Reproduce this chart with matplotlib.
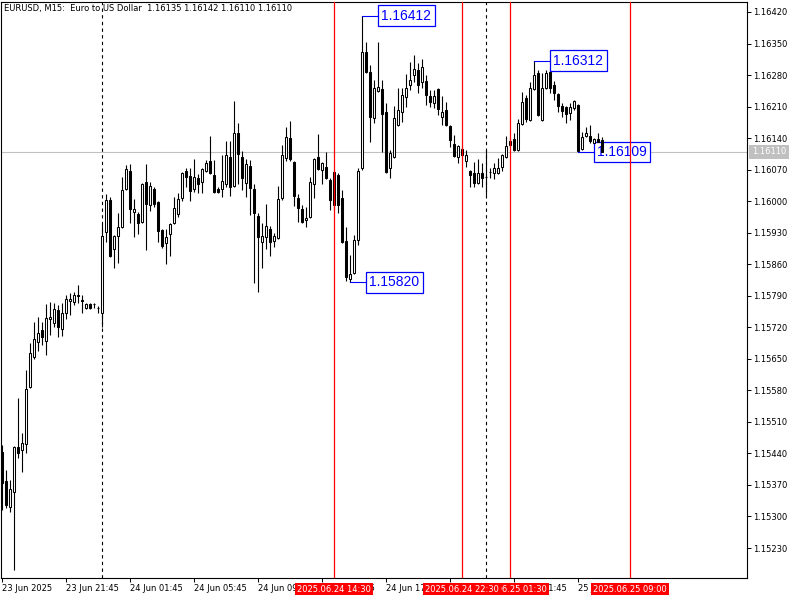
import numpy as np
import pandas as pd
import matplotlib
matplotlib.use("Agg")
import matplotlib.pyplot as plt

# EURUSD M15 candles, first bar 23 Jun 17:45
start = pd.Timestamp("2025-06-23 17:45")

opens = [1.15443, 1.15379, 1.15321, 1.15354, 1.15454, 1.15448, 1.15461, 1.15588, 1.15654, 1.15687,
         1.15714, 1.15690, 1.15738, 1.15730, 1.15758, 1.15716, 1.15752, 1.15778, 1.15776, 1.15792,
         1.15781, 1.15763, 1.15772, 1.15772, 1.15763, 1.15752, 1.15932, 1.16003, 1.15894, 1.15923,
         1.15943, 1.16027, 1.16067, 1.15976, 1.15972, 1.15954, 1.16043, 1.15992, 1.16027, 1.15998,
         1.15936, 1.15907, 1.15927, 1.15952, 1.15972, 1.16007, 1.16067, 1.16056, 1.16027, 1.16052,
         1.16043, 1.16067, 1.16089, 1.16058, 1.16027, 1.16027, 1.16038, 1.16098, 1.16034, 1.16151,
         1.16098, 1.16040, 1.16078, 1.16027, 1.15967, 1.15909, 1.15920, 1.15938, 1.15912, 1.15918,
         1.16007, 1.16096, 1.16140, 1.16087, 1.16007, 1.15983, 1.15958, 1.15965, 1.16038, 1.16098,
         1.16069, 1.16076, 1.16047, 1.15992, 1.16058, 1.16007, 1.15912, 1.15827, 1.15841, 1.15914,
         1.16074, 1.16331, 1.16287, 1.16185, 1.16245, 1.16249, 1.16198, 1.16074, 1.16098, 1.16169,
         1.16198, 1.16231, 1.16258, 1.16280, 1.16291, 1.16265, 1.16267, 1.16233, 1.16218, 1.16249,
         1.16187, 1.16202, 1.16167, 1.16127, 1.16098, 1.16116, 1.16089, 1.16067, 1.16063, 1.16040,
         1.16063, 1.16054, 1.16065, 1.16063, 1.16063, 1.16076, 1.16098, 1.16125, 1.16138, 1.16114,
         1.16171, 1.16229, 1.16180, 1.16249, 1.16285, 1.16180, 1.16251, 1.16287, 1.16258, 1.16238,
         1.16211, 1.16209, 1.16196, 1.16207, 1.16214, 1.16116, 1.16145, 1.16145, 1.16129, 1.16138,
         1.16135]
highs = [1.15459, 1.15403, 1.15381, 1.15456, 1.15563, 1.15485, 1.15625, 1.15685, 1.15732, 1.15743,
         1.15732, 1.15772, 1.15776, 1.15774, 1.15770, 1.15774, 1.15792, 1.15796, 1.15798, 1.15814,
         1.15792, 1.15774, 1.15774, 1.15774, 1.15767, 1.15949, 1.16016, 1.16009, 1.15925, 1.15974,
         1.16054, 1.16080, 1.16083, 1.16005, 1.15976, 1.16040, 1.16083, 1.16043, 1.16032, 1.16000,
         1.15938, 1.15938, 1.15952, 1.16009, 1.16018, 1.16065, 1.16074, 1.16074, 1.16094, 1.16060,
         1.16074, 1.16091, 1.16145, 1.16091, 1.16032, 1.16102, 1.16134, 1.16134, 1.16222, 1.16174,
         1.16111, 1.16094, 1.16091, 1.16038, 1.15974, 1.15952, 1.15994, 1.15945, 1.15929, 1.16034,
         1.16125, 1.16165, 1.16178, 1.16089, 1.16016, 1.15992, 1.15987, 1.16054, 1.16096, 1.16149,
         1.16087, 1.16109, 1.16052, 1.16069, 1.16063, 1.16025, 1.15943, 1.15881, 1.15925, 1.16074,
         1.16412, 1.16353, 1.16302, 1.16269, 1.16353, 1.16269, 1.16218, 1.16114, 1.16211, 1.16251,
         1.16251, 1.16282, 1.16310, 1.16325, 1.16307, 1.16316, 1.16280, 1.16247, 1.16247, 1.16251,
         1.16233, 1.16220, 1.16169, 1.16147, 1.16125, 1.16123, 1.16114, 1.16069, 1.16087, 1.16094,
         1.16085, 1.16114, 1.16074, 1.16085, 1.16096, 1.16105, 1.16145, 1.16140, 1.16151, 1.16182,
         1.16242, 1.16236, 1.16265, 1.16312, 1.16291, 1.16285, 1.16291, 1.16296, 1.16267, 1.16240,
         1.16218, 1.16211, 1.16218, 1.16225, 1.16216, 1.16154, 1.16165, 1.16169, 1.16140, 1.16151,
         1.16142]
lows = [1.15314, 1.15319, 1.15310, 1.15181, 1.15430, 1.15399, 1.15441, 1.15585, 1.15650, 1.15667,
        1.15681, 1.15659, 1.15703, 1.15721, 1.15699, 1.15701, 1.15738, 1.15747, 1.15770, 1.15774,
        1.15752, 1.15761, 1.15761, 1.15763, 1.15752, 1.15721, 1.15909, 1.15876, 1.15852, 1.15863,
        1.15940, 1.16025, 1.15952, 1.15920, 1.15927, 1.15952, 1.15892, 1.15978, 1.15987, 1.15909,
        1.15896, 1.15861, 1.15878, 1.15949, 1.15965, 1.16000, 1.16032, 1.16000, 1.16020, 1.16018,
        1.16018, 1.16065, 1.16060, 1.16018, 1.16018, 1.16009, 1.16032, 1.16011, 1.16032, 1.16038,
        1.16025, 1.16009, 1.15969, 1.15818, 1.15798, 1.15852, 1.15894, 1.15878, 1.15898, 1.15916,
        1.16003, 1.16089, 1.16089, 1.15989, 1.15954, 1.15952, 1.15943, 1.15963, 1.16007, 1.16069,
        1.16038, 1.16049, 1.15980, 1.15980, 1.15974, 1.15907, 1.15823, 1.15820, 1.15838, 1.15903,
        1.16069, 1.16285, 1.16131, 1.16174, 1.16242, 1.16109, 1.16063, 1.16052, 1.16096, 1.16167,
        1.16176, 1.16209, 1.16247, 1.16265, 1.16240, 1.16251, 1.16213, 1.16209, 1.16207, 1.16191,
        1.16169, 1.16167, 1.16120, 1.16098, 1.16085, 1.16098, 1.16076, 1.16032, 1.16032, 1.16038,
        1.16032, 1.16014, 1.16052, 1.16049, 1.16060, 1.16067, 1.16096, 1.16120, 1.16112, 1.16112,
        1.16169, 1.16176, 1.16178, 1.16247, 1.16189, 1.16178, 1.16249, 1.16240, 1.16225, 1.16198,
        1.16187, 1.16174, 1.16180, 1.16202, 1.16109, 1.16114, 1.16142, 1.16129, 1.16127, 1.16122,
        1.16110]
closes = [1.15374, 1.15325, 1.15361, 1.15454, 1.15441, 1.15463, 1.15583, 1.15663, 1.15694, 1.15707,
          1.15699, 1.15741, 1.15743, 1.15761, 1.15721, 1.15752, 1.15783, 1.15783, 1.15792, 1.15790,
          1.15779, 1.15772, 1.15763, 1.15771, 1.15762, 1.15923, 1.16003, 1.15878, 1.15923, 1.15943,
          1.16025, 1.16071, 1.15983, 1.15983, 1.15952, 1.16038, 1.15994, 1.16034, 1.15994, 1.15934,
          1.15900, 1.15920, 1.15949, 1.15985, 1.16005, 1.16063, 1.16054, 1.16023, 1.16054, 1.16038,
          1.16071, 1.16085, 1.16063, 1.16020, 1.16020, 1.16045, 1.16102, 1.16032, 1.16151, 1.16105,
          1.16052, 1.16083, 1.16029, 1.15974, 1.15920, 1.15923, 1.15945, 1.15909, 1.15923, 1.16005,
          1.16102, 1.16142, 1.16094, 1.16011, 1.15985, 1.15954, 1.15963, 1.16043, 1.16094, 1.16071,
          1.16085, 1.16052, 1.16003, 1.16065, 1.15992, 1.15909, 1.15832, 1.15838, 1.15914, 1.16067,
          1.16331, 1.16287, 1.16187, 1.16251, 1.16254, 1.16194, 1.16065, 1.16107, 1.16185, 1.16202,
          1.16236, 1.16251, 1.16269, 1.16293, 1.16258, 1.16298, 1.16236, 1.16220, 1.16233, 1.16205,
          1.16198, 1.16169, 1.16136, 1.16100, 1.16122, 1.16102, 1.16102, 1.16058, 1.16040, 1.16063,
          1.16052, 1.16053, 1.16064, 1.16074, 1.16074, 1.16102, 1.16122, 1.16134, 1.16113, 1.16174,
          1.16220, 1.16182, 1.16251, 1.16280, 1.16191, 1.16251, 1.16285, 1.16251, 1.16240, 1.16211,
          1.16200, 1.16194, 1.16209, 1.16222, 1.16111, 1.16142, 1.16151, 1.16134, 1.16138, 1.16131,
          1.16110]

y_ticks = [1.15230, 1.15300, 1.15370, 1.15440, 1.15510, 1.15580, 1.15650, 1.15720, 1.15790,
           1.15860, 1.15930, 1.16000, 1.16070, 1.16140, 1.16210, 1.16280, 1.16350, 1.16420]
x_tick_times = ["2025-06-23 17:45", "2025-06-23 21:45", "2025-06-24 01:45", "2025-06-24 05:45",
                "2025-06-24 09:45", "2025-06-24 13:45", "2025-06-24 17:45", "2025-06-24 21:45",
                "2025-06-25 01:45", "2025-06-25 05:45"]
x_tick_labels = ["23 Jun 2025", "23 Jun 21:45", "24 Jun 01:45", "24 Jun 05:45", "24 Jun 09:45",
                 "24 Jun 13:45", "24 Jun 17:45", "24 Jun 21:45", "25 Jun 01:45", "25 Jun 05:45"]
day_seps = ["2025-06-24 00:00", "2025-06-25 00:00"]
red_times = ["2025-06-24 14:30", "2025-06-24 22:30", "2025-06-25 01:30", "2025-06-25 09:00"]
red_labels = ["2025.06.24 14:30", "2025.06.24 22:30", "2025.06.25 01:30", "2025.06.25 09:00"]

header = "EURUSD, M15:  Euro to US Dollar  1.16135 1.16142 1.16110 1.16110"


def idx(ts):
    return (pd.Timestamp(ts) - start) / pd.Timedelta("15min")


o = np.array(opens)
h = np.array(highs)
l = np.array(lows)
c = np.array(closes)
x = np.arange(len(o))

fig = plt.figure(figsize=(8, 6), dpi=100)
ax = fig.add_axes([1 / 800, 22 / 600, 746 / 800, 576 / 600])
ax.set_xlim(-0.25, 186.25)
ax.set_ylim(1.151634, 1.164422)

# wicks + bodies
ax.vlines(x, l, h, color="black", lw=0.8, zorder=3)
up = c >= o
ax.bar(x[up], c[up] - o[up], bottom=o[up], width=0.62, color="white",
       edgecolor="black", linewidth=0.75, zorder=4)
ax.bar(x[~up], o[~up] - c[~up], bottom=c[~up], width=0.62, color="black",
       edgecolor="black", linewidth=0.75, zorder=4)

# bid line
ax.axhline(c[-1], color="#c0c0c0", lw=0.8, zorder=1)
ax.text(1 + 5 / 746, c[-1], "%.5f" % c[-1], transform=ax.get_yaxis_transform(),
        fontsize=6, color="white", va="center", ha="left",
        bbox=dict(facecolor="#c0c0c0", edgecolor="none", pad=1.8), clip_on=False)

# period separators
for t in day_seps:
    ax.axvline(idx(t), color="black", lw=0.8, ls=(0, (3, 3)), zorder=2)

# red vertical lines + time labels
for t in red_times:
    ax.axvline(idx(t), color="red", lw=0.9, zorder=5)
for t, lab in reversed(list(zip(red_times, red_labels))):
    ax.text(idx(t), -11 / 576, lab, transform=ax.get_xaxis_transform(),
            fontsize=6, color="white", ha="center", va="center", zorder=8,
            bbox=dict(facecolor="red", edgecolor="none", pad=1.3), clip_on=False)

# session high / low marks
sessions = [(red_times[0], red_times[1]), (red_times[2], red_times[3])]
for a, b in sessions:
    i0, i1 = int(idx(a)), min(int(idx(b)), len(o) - 1)
    ih = i0 + int(np.argmax(h[i0:i1 + 1]))
    il = i0 + int(np.argmin(l[i0:i1 + 1]))
    for i, p in [(ih, h[ih]), (il, l[il])]:
        ax.plot([i, i + 4], [p, p], color="blue", lw=0.8, zorder=6)
        ax.text(i + 4.85, p, "%.5f" % p, fontsize=10, family="Liberation Sans",
                color="blue", ha="left", va="center", zorder=3.5,
                bbox=dict(facecolor="white", edgecolor="blue", lw=0.9, pad=2.4))

# axes
ax.set_yticks(y_ticks)
ax.set_yticklabels(["%.5f" % v for v in y_ticks])
ax.yaxis.tick_right()
ax.tick_params(axis="y", direction="out", length=3, width=0.7, labelsize=6, pad=1.5)
ax.set_xticks([idx(t) for t in x_tick_times])
ax.set_xticklabels(x_tick_labels, ha="left")
ax.tick_params(axis="x", direction="out", length=3, width=0.7, labelsize=6, pad=1.5)
for s in ax.spines.values():
    s.set_linewidth(0.8)

fig.text(4 / 800, 1 - 9 / 600, header, fontsize=6, va="center", ha="left")

fig.savefig("out.png", dpi=100)
